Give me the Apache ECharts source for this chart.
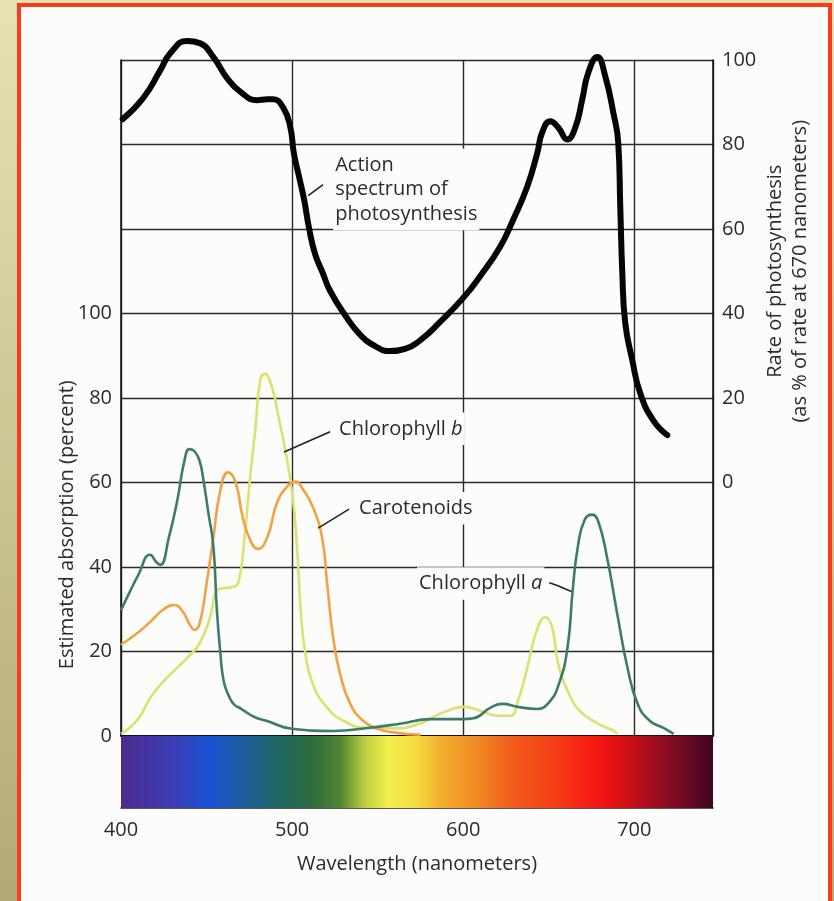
<html>
<head>
<meta charset="utf-8">
<title>Absorption and action spectra</title>
<script src="https://cdn.jsdelivr.net/npm/echarts@6/dist/echarts.min.js"></script>
<style>
  html, body { margin: 0; padding: 0; }
  body { width: 834px; height: 901px; overflow: hidden; position: relative;
         background: linear-gradient(#e6e2b3, #b2a977); }
  #frame { position: absolute; left: 17px; top: 3px; width: 815px; height: 920px;
           box-sizing: border-box; border: 4px solid #ff3a18; background: #fcfcfb; }
  #chart { position: absolute; left: 0; top: 0; width: 834px; height: 901px; }
</style>
</head>
<body>
<div id="frame"></div>
<div id="chart"></div>
<script>
// x axis (wavelength, nm)
var wlMin = 400, wlMax = 746;
var wlTicks = [400, 500, 600, 700];

// action spectrum: rate of photosynthesis, % of rate at 670 nm (right axis)
var actionNm   = [401, 413, 423, 429, 438.6, 446, 454, 462, 470, 479.5, 485.5, 489, 495, 499, 501, 504, 507, 510, 513.5, 518, 522, 531, 540, 548.5, 557, 566, 575, 586.5, 600, 610, 621.6, 629.2, 637.4, 643.3, 646.2, 650.9, 655.6, 660.8, 665.5, 669.6, 673.1, 678.4, 683, 687.7, 690.6, 691.8, 693, 694.7, 698.8, 703.5, 711.1, 719.3];
var actionRate = [86, 91, 97.6, 101.7, 104.5, 104, 100.7, 95.7, 92.4, 90.5, 90.7, 90.7, 88.6, 84, 78, 72.5, 67, 60, 54, 49.5, 45.5, 39.6, 34.9, 32.3, 31.1, 31.6, 33.7, 38, 43.7, 48.9, 55.8, 62.2, 70, 78, 82.9, 85.5, 84, 81.2, 84, 90.7, 97, 100.7, 96.2, 87.6, 80.5, 65.3, 49.6, 37.8, 29, 21.1, 14.7, 11.2];

// absorption (percent, left axis)
var chlANm  = [400, 405, 410, 417, 421, 423, 428, 433, 437, 440, 443, 446, 448, 451, 454, 456, 458, 460, 463, 466, 470, 478, 485, 500, 524, 544, 563, 581, 590, 600, 606, 616, 623, 632, 643, 650, 656, 661, 664, 667, 671, 675.4, 679, 684, 690, 696, 702, 709, 717, 723];
var chlAVal = [29.8, 34, 38, 42.9, 41, 40.5, 47, 56, 65, 67.9, 67.4, 65, 61, 53, 44.8, 30, 20, 13, 9.5, 7.5, 6.5, 4.5, 3.6, 1.7, 1.2, 1.9, 2.9, 4, 4, 4, 4.2, 6.7, 7.6, 6.9, 6.4, 7.9, 12.4, 21, 34.5, 44.8, 51.2, 52.4, 50.7, 42.4, 29, 16.2, 7.6, 3.6, 1.9, 0.5];

var chlBNm  = [400, 410, 417, 425, 433, 440, 446, 452, 456, 460, 466, 469, 472, 475.5, 478.5, 481.5, 484, 488, 492, 497, 500.5, 503, 505, 507.5, 512, 520.5, 530, 544, 560, 575, 585, 591, 600, 610, 620, 627.5, 632, 637.5, 643, 648, 652, 655.5, 661, 668, 678, 688, 690];
var chlBVal = [0.5, 4, 9, 13, 16.2, 19, 22, 28, 34.5, 35, 35.3, 37, 46, 61.4, 72.6, 84.5, 85.7, 82.9, 75.7, 65.5, 56, 44, 30, 20.2, 12.4, 6.7, 3.6, 1.9, 1.8, 3, 5, 6, 6.9, 6, 4.8, 4.8, 8.3, 16.2, 25, 28.1, 25.7, 17.1, 10.7, 6, 3.1, 1.2, 0.5];

var carNm  = [400, 410, 417, 425, 431, 436, 440, 443, 446, 450, 454, 458, 462.5, 467, 471, 475.5, 480, 485.5, 491, 497, 502, 506.5, 512, 517.5, 520.5, 524, 528, 534, 541.5, 550, 560, 575];
var carVal = [21.6, 24.5, 27, 30, 31, 29.5, 26.5, 25.1, 26.7, 36, 47, 58, 62.4, 60, 52, 46.4, 44.3, 47, 55, 59, 60.2, 58.3, 54.3, 47, 36, 23.3, 14.8, 7.6, 3.6, 1.7, 0.8, 0.3];

// visible spectrum strip
var specNm     = [400, 430, 452, 468, 490, 512, 528, 542, 556, 572, 588, 608, 630, 655, 675, 690, 718, 746];
var specColors = ['#4b2c8e', '#3c3cb4', '#1a52d2', '#1d5ca6', '#1f6768', '#2d6c3c', '#4f8432', '#b8cc3e', '#f2f04e', '#f6dc40', '#f2ac2e', '#f08a24', '#f25a1c', '#f43c16', '#f81a14', '#de1012', '#8c0c22', '#3e0620'];

function zip(a, b) {
    var out = [];
    for (var i = 0; i < a.length; i++) out.push([a[i], b[i]]);
    return out;
}

var font = '"Open Sans", "Noto Sans", sans-serif';
var textColor = '#2b2b2b';
var lineColor = '#2a2a2a';

var gradient = new echarts.graphic.LinearGradient(0, 0, 1, 0,
    specNm.map(function (nm, i) {
        return { offset: (nm - wlMin) / (wlMax - wlMin), color: specColors[i] };
    }));

var chart = echarts.init(document.getElementById('chart'), null, { renderer: 'canvas' });

var option = {
    animation: false,
    backgroundColor: 'transparent',
    textStyle: { fontFamily: font },
    grid: [
        { left: 121, top: 60, width: 592, height: 676 },
        { left: 121, top: 736, width: 592, height: 72 }
    ],
    xAxis: [{
        gridIndex: 0, type: 'value', min: wlMin, max: wlMax, interval: 100,
        axisLine: { show: true, lineStyle: { color: '#111', width: 2 } },
        axisTick: { show: false },
        axisLabel: { show: false },
        splitLine: { show: true, lineStyle: { color: lineColor, width: 1.4 } }
    }, {
        gridIndex: 1, type: 'value', min: wlMin, max: wlMax, interval: 100,
        axisLine: { show: true, lineStyle: { color: '#222', width: 1.5 } },
        axisTick: { show: false },
        splitLine: { show: false },
        axisLabel: {
            color: textColor, fontSize: 20, fontFamily: font, margin: 12,
            formatter: function (v) { return wlTicks.indexOf(v) >= 0 ? String(v) : ''; }
        },
        name: 'Wavelength (nanometers)', nameLocation: 'middle', nameGap: 46,
        nameTextStyle: { color: textColor, fontSize: 20, fontFamily: font }
    }],
    yAxis: [{
        gridIndex: 0, type: 'value', min: 0, max: 160, interval: 20,
        axisLine: { show: true, lineStyle: { color: '#111', width: 1.5 } },
        axisTick: { show: false },
        splitLine: { show: true, lineStyle: { color: lineColor, width: 1.4 } },
        axisLabel: {
            color: textColor, fontSize: 20, fontFamily: font, margin: 9,
            formatter: function (v) { return v <= 100 ? String(v) : ''; }
        }
    }, {
        gridIndex: 0, type: 'value', min: -60, max: 100, interval: 20, position: 'right',
        axisLine: { show: true, lineStyle: { color: '#111', width: 1.5 } },
        axisTick: { show: false },
        splitLine: { show: false },
        axisLabel: {
            color: textColor, fontSize: 20, fontFamily: font, margin: 9,
            formatter: function (v) { return v >= 0 ? String(v) : ''; }
        }
    }, {
        gridIndex: 1, type: 'value', min: 0, max: 1, show: false
    }],
    series: [{
        type: 'custom', xAxisIndex: 1, yAxisIndex: 2,
        data: [[wlMin, wlMax]],
        encode: { x: [0, 1] },
        renderItem: function (params, api) {
            var p0 = api.coord([api.value(0), 1]);
            var p1 = api.coord([api.value(1), 0]);
            return { type: 'rect',
                shape: { x: p0[0], y: p0[1], width: p1[0] - p0[0], height: p1[1] - p0[1] },
                style: { fill: gradient } };
        }
    }, {
        name: 'Chlorophyll b', type: 'line', data: zip(chlBNm, chlBVal),
        symbol: 'none', smooth: 0.5,
        lineStyle: { color: '#d8e370', width: 2.6 }, z: 3
    }, {
        name: 'Carotenoids', type: 'line', data: zip(carNm, carVal),
        symbol: 'none', smooth: 0.5,
        lineStyle: { color: '#f2a244', width: 2.6 }, z: 4
    }, {
        name: 'Chlorophyll a', type: 'line', data: zip(chlANm, chlAVal),
        symbol: 'none', smooth: 0.5,
        lineStyle: { color: '#3e7c69', width: 2.6 }, z: 5
    }, {
        name: 'Action spectrum', type: 'line', yAxisIndex: 1, data: zip(actionNm, actionRate),
        symbol: 'none', smooth: 0.5, clip: false,
        lineStyle: { color: '#050505', width: 6, cap: 'round', join: 'round' }, z: 6
    }]
};
chart.setOption(option);

// annotation anchors, in (nm, absorption %) on the main grid
var notes = [
    { text: 'Action\nspectrum of\nphotosynthesis', at: [524, 139], align: 'left', va: 'top' },
    { text: '{n|Chlorophyll }{i|b}', at: [526.3, 72.7], align: 'left', va: 'middle' },
    { text: '{n|Carotenoids}', at: [538, 53.9], align: 'left', va: 'middle' },
    { text: '{n|Chlorophyll }{i|a}', at: [647.4, 36.1], align: 'right', va: 'middle' }
];
var leaders = [
    [[509.4, 127.9], [518.1, 130.5]],
    [[495.3, 67.2], [522.2, 72]],
    [[515.2, 49.2], [533.3, 53.7]],
    [[650.3, 36.3], [655, 35.6], [663.2, 34.2]]
];

function px(p) { return chart.convertToPixel({ gridIndex: 0 }, p); }

var graphics = [];
notes.forEach(function (n) {
    var p = px(n.at);
    graphics.push({
        type: 'text', x: p[0], y: p[1], z: 50,
        style: {
            text: n.text, fill: textColor, font: '20px ' + font, lineHeight: 24.5,
            align: n.align, verticalAlign: n.va,
            backgroundColor: '#fcfcfb', padding: [4, 2],
            rich: {
                n: { fontSize: 20, fontFamily: font, fill: textColor },
                i: { fontSize: 20, fontFamily: font, fontStyle: 'italic', fill: textColor }
            }
        }
    });
});
leaders.forEach(function (pts) {
    graphics.push({
        type: 'polyline', z: 50,
        shape: { points: pts.map(px) },
        style: { stroke: '#222', lineWidth: 1.6, fill: null }
    });
});
// axis titles
var yLeft = px([400, 50]);
graphics.push({
    type: 'text', x: 67, y: yLeft[1], rotation: Math.PI / 2, z: 50,
    style: { text: 'Estimated absorption (percent)', fill: textColor, font: '20px ' + font,
             align: 'center', verticalAlign: 'middle' }
});
var yRight = chart.convertToPixel({ yAxisIndex: 1 }, 50);
graphics.push({
    type: 'text', x: 788, y: yRight, rotation: Math.PI / 2, z: 50,
    style: { text: 'Rate of photosynthesis\n(as % of rate at 670 nanometers)', fill: textColor,
             font: '20px ' + font, lineHeight: 25, align: 'center', verticalAlign: 'middle' }
});
chart.setOption({ graphic: graphics });

window.onresize = function () { chart.resize(); };
</script>
</body>
</html>
